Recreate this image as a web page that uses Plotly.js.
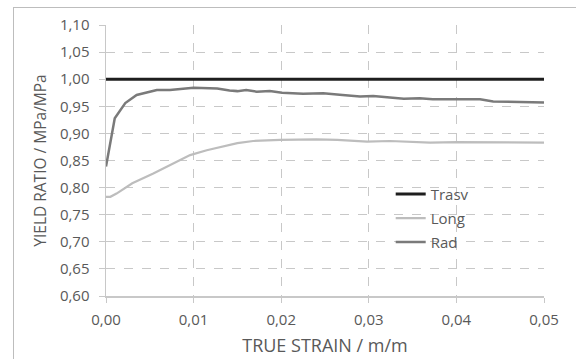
<!DOCTYPE html>
<html>
<head>
<meta charset="utf-8">
<script src="https://cdn.plot.ly/plotly-3.0.1.min.js"></script>
<style>
html,body{margin:0;padding:0;background:#fff;}
#frame{position:absolute;left:13px;top:7px;width:600px;height:400px;border-left:1px solid #bdbdbd;border-top:1px solid #bdbdbd;pointer-events:none;z-index:5;}
#chart{position:absolute;left:0;top:0;width:576px;height:359px;}
</style>
</head>
<body>
<div id="chart"></div>
<div id="frame"></div>
<script>
// Data
const trasvStrain = [0, 0.05];
const trasvRatio  = [1.0, 1.0];

const longStrain = [0, 0.0005, 0.0012, 0.003, 0.0054, 0.0077, 0.0096, 0.0115, 0.0134, 0.015, 0.0168, 0.0199, 0.024, 0.0264, 0.0298, 0.0324, 0.037, 0.040, 0.050];
const longRatio  = [0.783, 0.783, 0.789, 0.808, 0.826, 0.845, 0.860, 0.869, 0.876, 0.882, 0.886, 0.888, 0.889, 0.888, 0.885, 0.886, 0.883, 0.884, 0.883];

const radStrain = [0, 0.001, 0.0022, 0.0035, 0.0058, 0.0073, 0.010, 0.0127, 0.0141, 0.015, 0.016, 0.0172, 0.0187, 0.0201, 0.0225, 0.0248, 0.027, 0.029, 0.0305, 0.032, 0.034, 0.0358, 0.0373, 0.040, 0.0427, 0.0442, 0.0473, 0.050];
const radRatio  = [0.839, 0.928, 0.956, 0.971, 0.980, 0.980, 0.984, 0.983, 0.979, 0.978, 0.980, 0.977, 0.978, 0.975, 0.973, 0.974, 0.971, 0.968, 0.969, 0.967, 0.964, 0.965, 0.963, 0.963, 0.963, 0.959, 0.958, 0.957];

const xTicks = [0, 0.01, 0.02, 0.03, 0.04, 0.05];
const yTicks = [0.60, 0.65, 0.70, 0.75, 0.80, 0.85, 0.90, 0.95, 1.00, 1.05, 1.10];

const font = 'Open Sans, Liberation Sans, sans-serif';
const gray = '#595959';

const traces = [
  {x: trasvStrain, y: trasvRatio, name: 'Trasv', mode: 'lines', legendgroup: 'a',
   line: {color: '#1e1e1e', width: 3}},
  {x: longStrain, y: longRatio, name: 'Long', mode: 'lines', legendgroup: 'b',
   line: {color: '#bdbdbd', width: 2.2}},
  {x: radStrain, y: radRatio, name: 'Rad', mode: 'lines', legendgroup: 'c',
   line: {color: '#7a7a7a', width: 2.5}}
];

const layout = {
  width: 576, height: 359,
  margin: {l: 106, r: 32, t: 25, b: 63},
  paper_bgcolor: '#fff', plot_bgcolor: '#fff',
  separators: ', ',
  font: {family: font, size: 15, color: gray},
  showlegend: true,
  legend: {x: 0.650, y: 0.436, xanchor: 'left', yanchor: 'top', bgcolor: 'rgba(0,0,0,0)',
           font: {family: font, size: 15, color: gray}, itemwidth: 30,
           tracegroupgap: 1.5},
  shapes: [{type: 'rect', xref: 'paper', yref: 'paper', layer: 'between',
            x0: 0.587, x1: 0.895, y0: 0.144, y1: 0.446,
            fillcolor: '#fff', line: {width: 0}}],
  xaxis: {range: [0, 0.05], tickvals: xTicks, tickformat: '.2f',
          showgrid: true, gridcolor: '#c8c8c8', griddash: 'dash', gridwidth: 1,
          showline: true, linecolor: '#c8c8c8', linewidth: 1.5,
          ticks: 'outside', ticklen: 5, tickcolor: '#c8c8c8',
          zeroline: false, ticklabelstandoff: 4,
          title: {text: 'TRUE STRAIN / m/m', font: {family: font, size: 18, color: gray}, standoff: 12}},
  yaxis: {range: [0.60, 1.10], tickvals: yTicks, tickformat: '.2f',
          showgrid: true, gridcolor: '#c8c8c8', griddash: 'dash', gridwidth: 1,
          showline: true, linecolor: '#c8c8c8', linewidth: 1.5,
          ticks: 'outside', ticklen: 6, tickcolor: '#c8c8c8',
          zeroline: false, ticklabelstandoff: 6,
          title: {text: 'YIELD RATIO / MPa/MPa', font: {family: font, size: 15.5, color: gray}, standoff: 9}}
};

Plotly.newPlot('chart', traces, layout, {displayModeBar: false, staticPlot: true});
</script>
</body>
</html>
